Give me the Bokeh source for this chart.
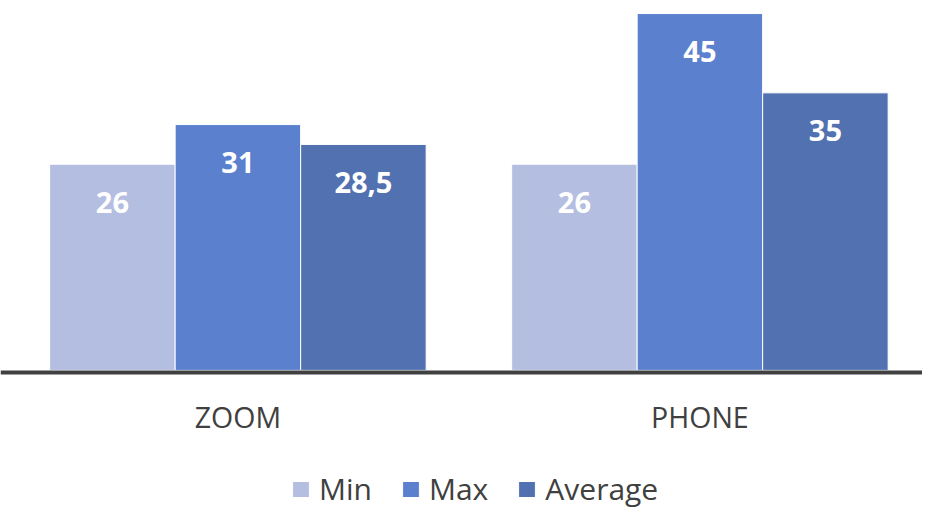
from bokeh.plotting import figure
from bokeh.models import ColumnDataSource, Range1d, Legend, LegendItem, BoxAnnotation
from bokeh.transform import dodge
from bokeh.core.properties import value
from bokeh.embed import file_html
from bokeh.resources import INLINE

# ---- data ----
categories = ["ZOOM", "PHONE"]
series = ["Min", "Max", "Average"]
min_vals = [26, 26]
max_vals = [31, 45]
avg_vals = [28.5, 35]

colors = ["#B4BEE0", "#5B80CE", "#5271B0"]

def fmt(v):
    return f"{v:g}".replace(".", ",")

W, H = 922, 508
PX = 7.93          # pixels per value unit
BASE = 369.9       # baseline in canvas px from top
GROUP_PX = 462.0   # distance between group centres (px)
FIRST = 237.4      # centre of first group (px from left)
BAR = 125.5 / GROUP_PX

src = ColumnDataSource(dict(
    x=list(range(len(categories))),
    cat=categories,
    Min=min_vals, Max=max_vals, Average=avg_vals,
    Min_l=[fmt(v) for v in min_vals],
    Max_l=[fmt(v) for v in max_vals],
    Average_l=[fmt(v) for v in avg_vals],
))

p = figure(width=W, height=H, output_backend="svg", toolbar_location=None,
           x_range=Range1d(-FIRST / GROUP_PX, (W - FIRST) / GROUP_PX),
           y_range=Range1d(-(H - BASE) / PX, BASE / PX),
           min_border=0, outline_line_color=None)
p.axis.visible = False
p.grid.visible = False
p.background_fill_color = "white"
p.border_fill_color = "white"

offsets = [-BAR, 0, BAR]
renderers = []
for s, c, off in zip(series, colors, offsets):
    r = p.vbar(x=dodge("x", off, range=p.x_range), top=s, width=BAR, bottom=0,
               source=src, fill_color=c, line_color="white", line_width=1)
    renderers.append(r)
    p.text(x=dodge("x", off, range=p.x_range), y=s, text=s + "_l", source=src,
           text_color="white", text_font=value("Open Sans"), text_font_style="bold",
           text_font_size="29px", text_align="center", text_baseline="middle",
           y_offset=38)

# baseline axis line
p.add_layout(BoxAnnotation(top=0, bottom=-4.2 / PX, fill_color="#404040", fill_alpha=1,
                           line_color=None))

# category labels
p.text(x="x", y=0, text="cat", source=src, text_color="#404040",
       text_font=value("Open Sans"), text_font_size="28.5px",
       text_align="center", text_baseline="middle", y_offset=47)

legend = Legend(items=[LegendItem(label=s, renderers=[r]) for s, r in zip(series, renderers)],
                orientation="horizontal", location=(290, -1),
                glyph_width=21, glyph_height=20, label_standoff=8, spacing=28,
                padding=0, margin=0, border_line_color=None, background_fill_alpha=0,
                label_text_font="Open Sans", label_text_font_size="30px",
                label_text_color="#404040")
p.add_layout(legend)

open("out.html", "w").write(file_html(p, INLINE))
